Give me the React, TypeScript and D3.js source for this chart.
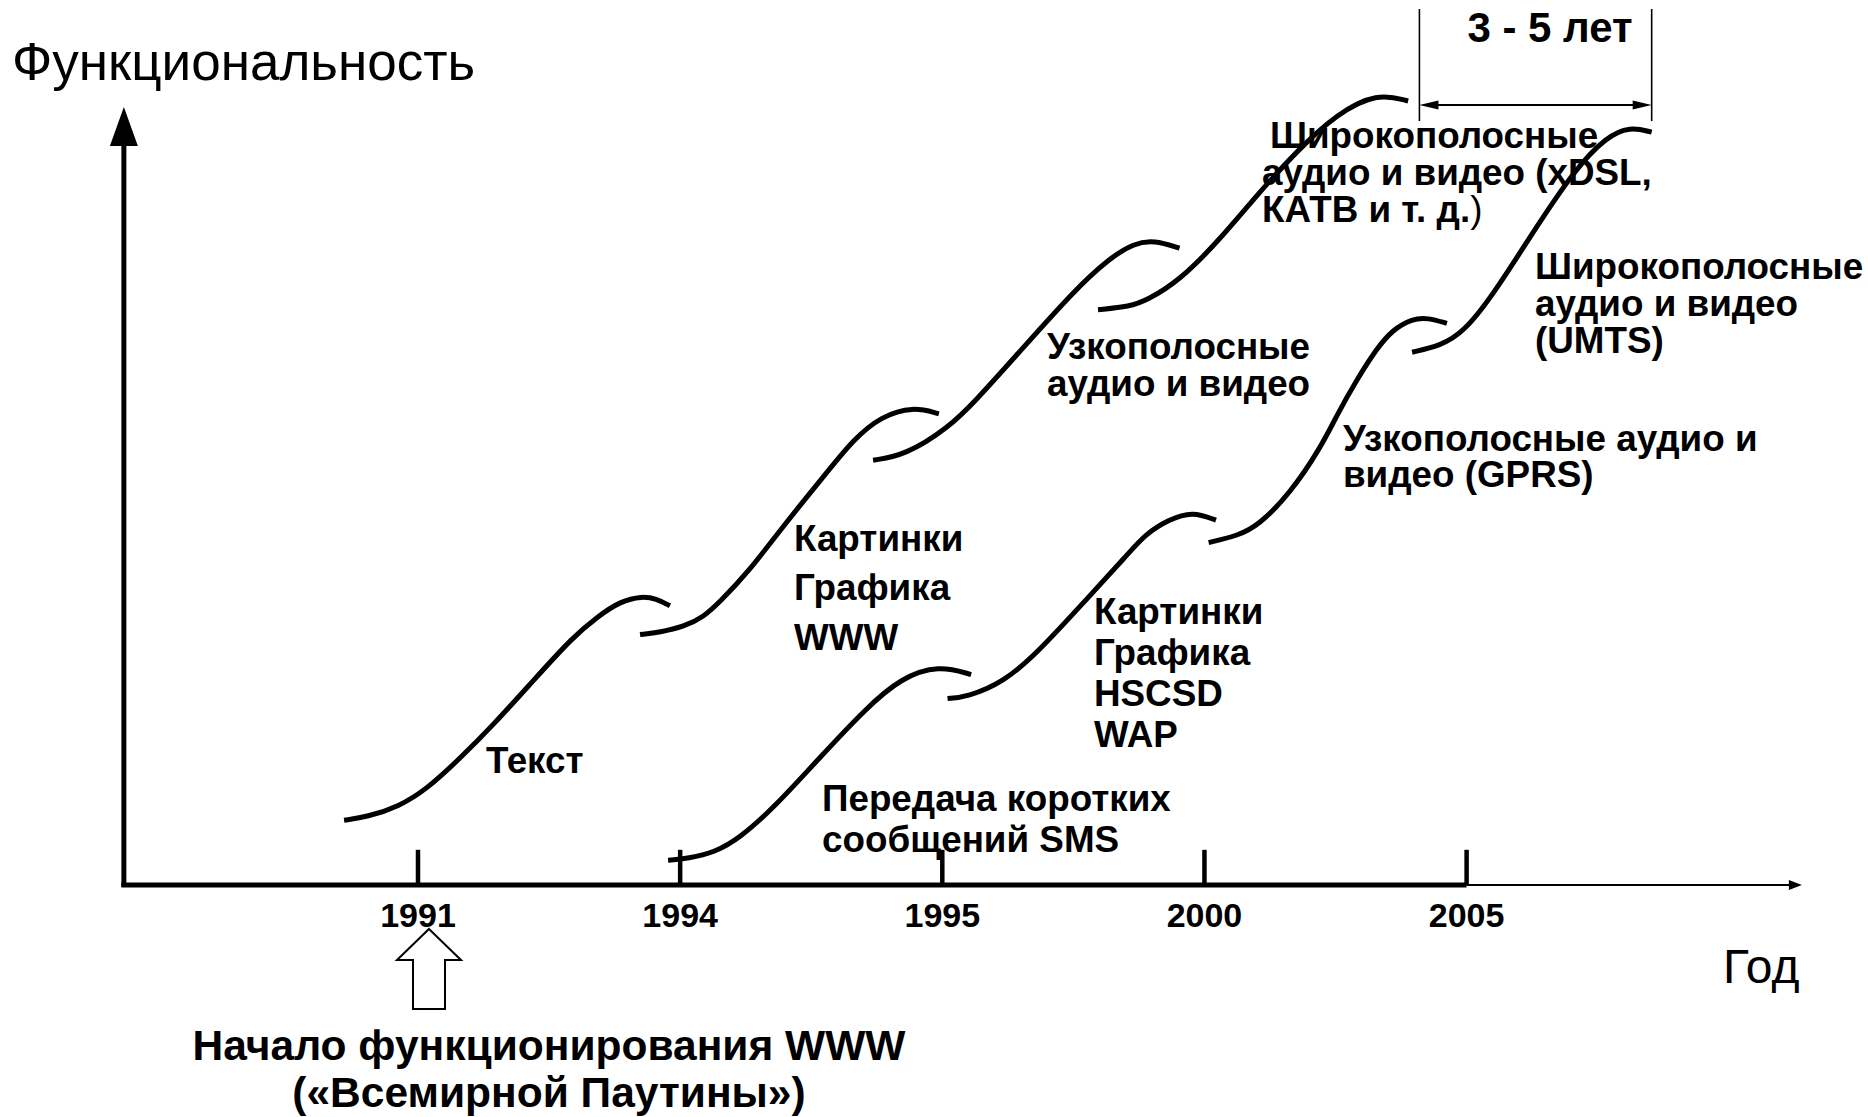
import React from "react";
import * as d3 from "d3";

// ---- Data ----------------------------------------------------------------
// Timeline positions: tick index (0 = 1991, 1 = 1994, 2 = 1995, 3 = 2000, 4 = 2005)
const yearTicks = ["1991", "1994", "1995", "2000", "2005"];

// Each curve: [timeline position, functionality level]
// Upper series (fixed internet)
const curveText = [
  [-0.282, 8.1], [-0.195, 8.5], [-0.073, 9.8], [0.034, 12.0], [0.153, 15.6],
  [0.29, 20.1], [0.441, 25.6], [0.591, 31.0], [0.683, 33.5], [0.773, 35.5],
  [0.855, 36.1], [0.908, 35.8], [0.961, 34.9],
];
const curveGraphicsWWW = [
  [0.847, 31.3], [0.923, 31.6], [1.015, 32.3], [1.089, 33.5], [1.148, 35.3],
  [1.255, 38.9], [1.406, 45.4], [1.541, 50.8], [1.663, 55.8], [1.768, 58.6],
  [1.888, 59.8], [1.987, 58.9],
];
const curveNarrowband = [
  [1.736, 53.1], [1.857, 53.7], [2.022, 57.1], [2.129, 60.6], [2.277, 66.0],
  [2.505, 74.4], [2.64, 78.4], [2.731, 80.2], [2.808, 80.6], [2.905, 79.6],
];
const curveBroadbandXDSL = [
  [2.594, 71.9], [2.716, 72.3], [2.781, 73.1], [2.903, 75.5], [3.054, 80.5],
  [3.204, 86.4], [3.357, 91.9], [3.506, 96.4], [3.658, 99.0], [3.777, 98.0],
];
// Lower series (mobile)
const curveSMS = [
  [0.954, 3.1], [1.03, 3.3], [1.133, 4.1], [1.225, 5.8], [1.362, 9.8],
  [1.526, 15.7], [1.709, 22.1], [1.843, 25.9], [1.987, 27.5], [2.11, 26.3],
];
const curveGraphicsHSCSD = [
  [2.02, 23.3], [2.094, 23.5], [2.232, 25.3], [2.365, 29.1], [2.533, 35.1],
  [2.712, 41.5], [2.773, 43.8], [2.865, 45.7], [2.955, 46.7], [3.044, 45.6],
];
const curveGPRS = [
  [3.016, 42.8], [3.13, 43.7], [3.204, 44.9], [3.326, 48.9], [3.446, 54.8],
  [3.506, 58.8], [3.582, 63.2], [3.658, 67.1], [3.718, 69.4], [3.793, 70.8],
  [3.853, 70.9], [3.925, 70.2],
];
const curveUMTS = [
  [3.792, 66.6], [3.899, 67.4], [3.99, 69.1], [4.108, 74.1], [4.261, 82.0],
  [4.412, 89.4], [4.532, 93.5], [4.623, 94.8], [4.706, 94.1],
];

const allCurves = [
  curveText, curveGraphicsWWW, curveNarrowband, curveBroadbandXDSL,
  curveSMS, curveGraphicsHSCSD, curveGPRS, curveUMTS,
];

// Label texts
const labelText = ["Текст"];
const labelGraphicsWWW = ["Картинки", "Графика", "WWW"];
const labelNarrowband = ["Узкополосные", "аудио и видео"];
const labelBroadbandXDSL = ["Широкополосные", "аудио и видео (xDSL,", "КАТВ и т. д."];
const labelSMS = ["Передача коротких", "сообщений SMS"];
const labelGraphicsHSCSD = ["Картинки", "Графика", "HSCSD", "WAP"];
const labelGPRS = ["Узкополосные аудио и", "видео (GPRS)"];
const labelUMTS = ["Широкополосные", "аудио и видео", "(UMTS)"];
const spanLabel = "3 - 5 лет";
const yTitle = "Функциональность";
const xTitle = "Год";
const footnote = ["Начало функционирования WWW", "(«Всемирной Паутины»)"];

// Axis extents (in data units)
const xAxisFrom = -1.122;
const xAxisSolidTo = 4;
const xAxisTo = 5.279;
const yAxisTop = 97.25;
const tickLen = 4.4;
// "3 - 5 лет" span
const spanFrom = 3.82;
const spanTo = 4.706;
const spanTop = 109.5;
const spanBottom = 95.5;
const spanArrowLevel = 97.5;

// ---- Layout ---------------------------------------------------------------
const W = 1868;
const H = 1117;
const FONT = "'Liberation Sans', Arial, Helvetica, sans-serif";

const x = d3.scaleLinear().domain([0, 4]).range([418, 1466.6]);
const y = d3.scaleLinear().domain([0, 100]).range([885, 85]);

const line = d3
  .line<number[]>()
  .x((d) => x(d[0]))
  .y((d) => y(d[1]))
  .curve(d3.curveBasis);

type LabelSpec = { lines: string[]; t: number; v: number; lh: number; dx?: number[] };

const labels: LabelSpec[] = [
  { lines: labelText, t: 0.2594, v: 14, lh: 40 },
  { lines: labelGraphicsWWW, t: 1.4343, v: 41.8, lh: 49.5 },
  { lines: labelNarrowband, t: 2.3994, v: 65.75, lh: 36.5 },
  { lines: labelBroadbandXDSL, t: 3.2195, v: 92.1, lh: 36.7, dx: [8, 0, 0] },
  { lines: labelSMS, t: 1.5411, v: 9.25, lh: 40.5 },
  { lines: labelGraphicsHSCSD, t: 2.5787, v: 32.6, lh: 40.8 },
  { lines: labelGPRS, t: 3.5285, v: 54.25, lh: 36 },
  { lines: labelUMTS, t: 4.2609, v: 75.75, lh: 37 },
];

export default function App() {
  const x0 = x(xAxisFrom);
  const y0 = y(0);
  const xSolid = x(xAxisSolidTo);
  const xEnd = x(xAxisTo);
  const yTop = y(yAxisTop);

  const sL = x(spanFrom);
  const sR = x(spanTo);
  const sA = y(spanArrowLevel);

  // hollow arrow under 1991
  const ax = x(0) + 11;
  const aTip = y0 + 44;
  const hollow = [
    [ax, aTip],
    [ax + 32, aTip + 31],
    [ax + 16, aTip + 31],
    [ax + 16, aTip + 80],
    [ax - 16, aTip + 80],
    [ax - 16, aTip + 31],
    [ax - 32, aTip + 31],
  ];

  return (
    <svg
      width={W}
      height={H}
      viewBox={`0 0 ${W} ${H}`}
      style={{ position: "absolute", left: 0, top: 0, display: "block", background: "#fff" }}
      fontFamily={FONT}
    >
      <rect x={0} y={0} width={W} height={H} fill="#fff" />

      {/* Y axis */}
      <line x1={x0} y1={y0 + 2} x2={x0} y2={yTop + 36} stroke="#000" strokeWidth={5} />
      <polygon
        points={`${x0},${yTop} ${x0 - 14},${yTop + 39} ${x0 + 14},${yTop + 39}`}
        fill="#000"
      />

      {/* X axis */}
      <line x1={x0 - 2.5} y1={y0} x2={xSolid} y2={y0} stroke="#000" strokeWidth={5} />
      <line x1={xSolid} y1={y0} x2={xEnd - 10} y2={y0} stroke="#000" strokeWidth={2} />
      <polygon
        points={`${xEnd},${y0} ${xEnd - 13},${y0 - 5} ${xEnd - 13},${y0 + 5}`}
        fill="#000"
      />

      {/* Ticks & labels */}
      {yearTicks.map((lab, i) => (
        <g key={lab}>
          <line
            x1={x(i)}
            x2={x(i)}
            y1={y(tickLen)}
            y2={y0}
            stroke="#000"
            strokeWidth={4.5}
          />
          <text
            x={x(i)}
            y={y0 + 42}
            textAnchor="middle"
            fontWeight="bold"
            fontSize={34}
          >
            {lab}
          </text>
        </g>
      ))}

      {/* Curves */}
      {allCurves.map((c, i) => (
        <path
          key={i}
          d={line(c as number[][]) || ""}
          fill="none"
          stroke="#000"
          strokeWidth={5}
          strokeLinecap="butt"
        />
      ))}

      {/* Curve labels */}
      {labels.map((L, i) => (
        <text key={i} fontWeight="bold" fontSize={36.8} fill="#000">
          {L.lines.map((s, j) => (
            <tspan key={j} x={x(L.t) + (L.dx ? L.dx[j] : 0)} y={y(L.v) + j * L.lh}>
              {s}
              {L.lines === labelBroadbandXDSL && j === 2 ? (
                <tspan fontWeight="normal">)</tspan>
              ) : null}
            </tspan>
          ))}
        </text>
      ))}

      {/* 3 - 5 years span */}
      <line x1={sL} x2={sL} y1={y(spanTop)} y2={y(spanBottom)} stroke="#000" strokeWidth={1.6} />
      <line x1={sR} x2={sR} y1={y(spanTop)} y2={y(spanBottom)} stroke="#000" strokeWidth={1.6} />
      <line x1={sL + 10} x2={sR - 10} y1={sA} y2={sA} stroke="#000" strokeWidth={2} />
      <polygon points={`${sL},${sA} ${sL + 19},${sA - 4.5} ${sL + 19},${sA + 4.5}`} fill="#000" />
      <polygon points={`${sR},${sA} ${sR - 19},${sA - 4.5} ${sR - 19},${sA + 4.5}`} fill="#000" />
      <text x={sL + 48} y={41.5} fontWeight="bold" fontSize={42}>
        {spanLabel}
      </text>

      {/* Axis titles */}
      <text x={12} y={80} fontSize={53}>
        {yTitle}
      </text>
      <text x={1723} y={983} fontSize={48}>
        {xTitle}
      </text>

      {/* WWW start marker */}
      <polygon
        points={hollow.map((p) => p.join(",")).join(" ")}
        fill="#fff"
        stroke="#000"
        strokeWidth={2}
      />
      <text textAnchor="middle" fontWeight="bold" fontSize={42.5}>
        <tspan x={549} y={1060}>
          {footnote[0]}
        </tspan>
        <tspan x={549} y={1107}>
          {footnote[1]}
        </tspan>
      </text>
    </svg>
  );
}
